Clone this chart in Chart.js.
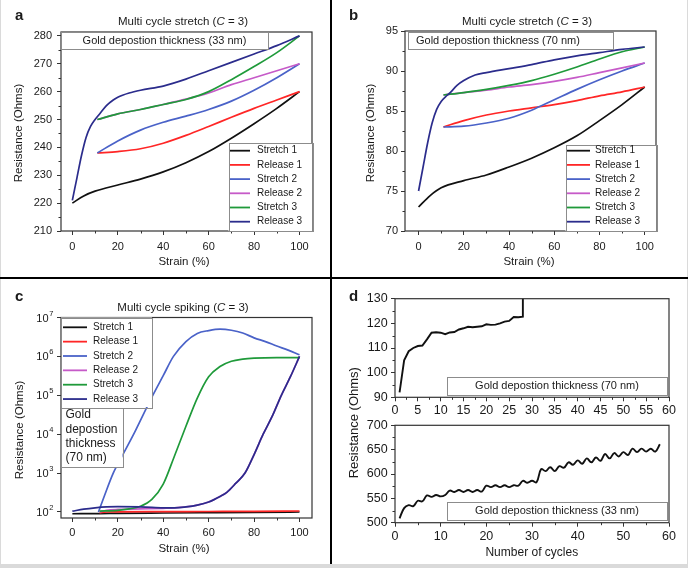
<!DOCTYPE html>
<html>
<head>
<meta charset="utf-8">
<script src="https://cdn.jsdelivr.net/npm/chart.js@4.4.1/dist/chart.umd.min.js"></script>
<style>
  body { margin: 0; background: #fff; }
  #fig { position: relative; width: 688px; height: 568px; overflow: hidden; background: #dadada; }
  #paper { position: absolute; left: 1px; top: 0; width: 686px; height: 564px; background: #fff; }
  .vline { position: absolute; left: 330px; top: 0; width: 2px; height: 564px; background: #000; }
  .hline { position: absolute; left: 0; top: 277px; width: 688px; height: 2px; background: #000; }
  canvas { position: absolute; left: 0; top: 0; }
</style>
</head>
<body>
<div id="fig">
  <div id="paper"></div>
  <div class="vline"></div>
  <div class="hline"></div>
  <canvas id="chartA" width="688" height="568"></canvas>
  <canvas id="chartB" width="688" height="568"></canvas>
  <canvas id="chartC" width="688" height="568"></canvas>
  <canvas id="chartD1" width="688" height="568"></canvas>
  <canvas id="chartD2" width="688" height="568"></canvas>
</div>
<script>
const W = 688, H = 568;
const FONT = "'Liberation Sans', Arial, Helvetica, sans-serif";

// series names + colours (shared by a, b, c)
const seriesNames = ['Stretch 1', 'Release 1', 'Stretch 2', 'Release 2', 'Stretch 3', 'Release 3'];
const seriesColors = ['#111111', '#ff2626', '#4a62c8', '#c65ac8', '#1f9a3a', '#2b2c8c'];

// ---- panel a : 33 nm ----
const aStrainS1 = [0, 5, 10, 20, 30, 40, 50, 60, 70, 80, 90, 100];
const aStretch1 = [220, 222.6, 224.3, 226.5, 228.6, 231.2, 234.5, 238.5, 243.3, 248.5, 254, 260];
const aStrainMid = [11, 20, 30, 40, 50, 60, 70, 80, 90, 100];
const aRelease1 = [238, 238.5, 239.5, 241.5, 244.3, 247.5, 250.8, 254, 257, 260];
const aStretch2 = [238, 242.3, 246.2, 249, 251.2, 253.6, 256.6, 260.5, 265, 270];
const aRelease2 = [250, 252, 253.6, 255.4, 257.3, 259.5, 262.5, 265, 267.5, 270];
const aStretch3 = [250, 252, 253.6, 255.4, 257.2, 260, 264.3, 269, 274, 280];
const aStrainR3 = [0, 2, 4, 6, 8, 10, 12, 15, 18, 20, 25, 30, 40, 50, 60, 70, 80, 90, 100];
const aRelease3 = [221, 229, 237, 243.5, 247.5, 250, 252, 255, 257, 258, 259.5, 260.5, 262, 264.5, 267.5, 270.5, 273.5, 276.5, 280];

// ---- panel b : 70 nm ----
const bStrainS1 = [0, 5, 10, 20, 30, 40, 50, 60, 70, 80, 90, 100];
const bStretch1 = [73, 74.4, 75.4, 76.3, 77, 78, 79.1, 80.4, 81.9, 83.8, 85.8, 88];
const bStrainMid = [11, 20, 30, 40, 50, 60, 70, 80, 90, 100];
const bRelease1 = [83, 83.8, 84.5, 85, 85.4, 85.8, 86.3, 86.9, 87.4, 88];
const bStretch2 = [83, 83.1, 83.5, 84.1, 85.1, 86.4, 87.7, 88.9, 90, 91];
const bRelease2 = [87, 87.3, 87.6, 88, 88.3, 88.7, 89.2, 89.8, 90.4, 91];
const bStretch3 = [87, 87.3, 87.7, 88.2, 88.8, 89.6, 90.5, 91.5, 92.4, 93];
const bStrainR3 = [0, 2, 4, 6, 8, 10, 12, 14, 17, 20, 25, 30, 40, 50, 60, 70, 80, 90, 100];
const bRelease3 = [75, 78, 81, 83.5, 85.2, 86.2, 86.8, 87.3, 88.2, 88.8, 89.5, 89.8, 90.3, 90.8, 91.4, 91.9, 92.3, 92.7, 93];

// ---- panel c : spiking, log scale ----
const cStrainS1 = [0, 12, 20, 40, 60, 80, 100];
const cStretch1 = [90, 91, 92, 94, 96, 98, 100];
const cStrainR1 = [12, 15, 20, 40, 60, 80, 100];
const cRelease1 = [95, 100, 101, 102, 103, 104, 106];
const cStrainS2 = [11.5, 14, 18, 22, 27, 31, 35, 40, 44.5, 50, 55, 60, 65, 70, 75, 80, 85, 90, 95, 100];
const cStretch2 = [100, 250, 1000, 2800, 1e4, 3e4, 9e4, 3.2e5, 1e6, 2.4e6, 3.9e6, 4.6e6, 5e6, 4.7e6, 4e6, 3e6, 2.4e6, 1.85e6, 1.45e6, 1.1e6];
const cStrainS3 = [12, 20, 25, 30, 35, 40, 45, 50, 55, 60, 65, 70, 75, 80, 90, 100];
const cStretch3 = [105, 110, 120, 140, 210, 520, 2800, 1.6e4, 8.5e4, 3e5, 5.5e5, 7.5e5, 8.5e5, 9e5, 9.3e5, 9.3e5];
const cStrainR2 = [12, 15, 20, 30, 40, 45, 50, 55, 60, 65, 68, 72, 76, 80, 84, 88, 92, 96, 100];
const cRelease2 = [100, 110, 116, 120, 124, 127, 135, 150, 180, 250, 320, 550, 1000, 3000, 1e4, 2.9e4, 1e5, 3e5, 1e6];
const cStrainR3 = [0, 5, 10, 15, 20, 30, 40, 45, 50, 55, 60, 65, 68, 72, 76, 80, 84, 88, 92, 96, 100];
const cRelease3 = [105, 118, 128, 135, 137, 135, 128, 127, 135, 150, 180, 250, 320, 550, 1000, 3000, 1e4, 2.9e4, 1e5, 3e5, 1e6];
const cTickValues = [1e2, 1e3, 1e4, 1e5, 1e6, 1e7];
const cTickExponents = ['2', '3', '4', '5', '6', '7'];

// ---- panel d : number of cycles ----
const dCyclesTop = [1, 2, 3, 4, 5, 6, 7, 8, 9, 10, 11, 12, 13, 14, 15, 16, 17, 18, 19, 20, 21, 22, 23, 24, 25, 26, 27, 28, 28];
const dThick70 = [92, 105, 108.7, 110, 110.8, 111, 113.5, 116.2, 116.4, 116.2, 115.6, 116.3, 116.5, 117.5, 118, 118.6, 118.4, 118.6, 118.8, 119.6, 119.4, 119.5, 120, 120.7, 121, 122.6, 122.5, 122.7, 140];
const dCyclesBottom = [1, 2, 3, 4, 5, 6, 7, 8, 9, 10, 11, 12, 13, 14, 15, 16, 17, 18, 19, 20, 21, 22, 23, 24, 25, 26, 27, 28, 29, 30,
  31, 32, 33, 34, 35, 36, 37, 38, 39, 40, 41, 42, 43, 44, 45, 46, 47, 48, 49, 50, 51, 52, 53, 54, 55, 56, 57, 58];
const dThick33 = [509, 530, 536, 534, 545, 544, 556, 553, 557, 554, 557, 566, 563, 567, 563, 567, 563, 567, 564, 576,
  573, 577, 573, 577, 573, 577, 576, 586, 582, 586, 583, 610, 606, 614, 606, 616, 613, 624, 619, 628,
  621, 632, 624, 634, 627, 641, 632, 643, 636, 645, 639, 652, 645, 652, 646, 652, 646, 661];

// texts
const titleStretch = ['Multi cycle stretch (', 'C', ' = 3)'];
const titleSpiking = ['Multi cycle spiking (', 'C', ' = 3)'];
const note33 = 'Gold depostion thickness (33 nm)';
const note70 = 'Gold depostion thickness (70 nm)';
const note70Lines = ['Gold', 'depostion', 'thickness', '(70 nm)'];
const yTitle = 'Resistance (Ohms)';
const xTitleStrain = 'Strain (%)';
const xTitleCycles = 'Number of cycles';

// ---------- helpers ----------
let lineSet = (label, color, xs, ys, extra) => {
    return Object.assign({
        label: label,
        data: xs.map((x, i) => ({ x: x, y: ys[i] })),
        borderColor: color,
        backgroundColor: color,
        borderWidth: 1.7,
        pointRadius: 0,
        fill: false,
        cubicInterpolationMode: 'monotone'
    }, extra || {});
}

// six cycle curves, later ones drawn on top
let cycleSets = (pairs) => {
    return pairs.map((p, i) => lineSet(seriesNames[i], seriesColors[i], p[0], p[1], { order: 6 - i }));
}

let axisOpt = (o, fit) => {
    return {
        type: o.type || 'linear',
        min: o.min,
        max: o.max,
        afterFit: fit,
        afterBuildTicks: o.ticks ? (s) => { s.ticks = o.ticks.map(v => ({ value: v })); } : undefined,
        ticks: {
            display: o.labels !== false,
            stepSize: o.step,
            includeBounds: false,
            autoSkip: false,
            maxRotation: 0,
            padding: o.pad,
            color: '#1a1a1a',
            font: { family: FONT, size: o.size }
        },
        grid: { drawOnChartArea: false, drawTicks: true, tickLength: 4, tickWidth: 1, tickColor: '#333', color: '#333' },
        border: { display: false }
    };
}

let makeChart = (id, area, xOpt, yOpt, datasets, deco) => {
    const yW = 48, xH = 26;
    return new Chart(document.getElementById(id), {
        type: 'line',
        data: { datasets: datasets },
        options: {
            responsive: false,
            animation: false,
            devicePixelRatio: 1,
            layout: { padding: { left: area.l - yW, top: area.t, right: W - area.r, bottom: H - area.b - xH } },
            plugins: { legend: { display: false }, tooltip: { enabled: false } },
            scales: {
                x: axisOpt(xOpt, s => { s.height = xH; }),
                y: axisOpt(yOpt, s => { s.width = yW; })
            }
        },
        plugins: [{ id: 'deco', afterDraw: c => deco(c, c.ctx) }]
    });
}

let txt = (ctx, s, x, y, size, o) => {
    o = o || {};
    ctx.save();
    ctx.font = (o.style || '') + ' ' + (o.weight || '') + ' ' + size + 'px ' + FONT;
    ctx.fillStyle = o.color || '#1a1a1a';
    ctx.textAlign = o.align || 'center';
    ctx.textBaseline = o.baseline || 'middle';
    ctx.translate(x, y);
    if (o.rotate) ctx.rotate(o.rotate);
    ctx.fillText(s, 0, 0);
    ctx.restore();
}

let title = (ctx, parts, cx, cy, size) => {
    ctx.save();
    const f = size + 'px ' + FONT, fi = 'italic ' + size + 'px ' + FONT;
    ctx.font = f;
    const w1 = ctx.measureText(parts[0]).width, w3 = ctx.measureText(parts[2]).width;
    ctx.font = fi;
    const w2 = ctx.measureText(parts[1]).width;
    let x = cx - (w1 + w2 + w3) / 2;
    ctx.fillStyle = '#1a1a1a';
    ctx.textBaseline = 'middle';
    ctx.textAlign = 'left';
    ctx.font = f; ctx.fillText(parts[0], x, cy); x += w1;
    ctx.font = fi; ctx.fillText(parts[1], x, cy); x += w2;
    ctx.font = f; ctx.fillText(parts[2], x, cy);
    ctx.restore();
}

let frame = (c, ctx) => {
    const a = c.chartArea;
    ctx.save();
    ctx.strokeStyle = '#333';
    ctx.lineWidth = 1.2;
    ctx.strokeRect(a.left, a.top, a.right - a.left, a.bottom - a.top);
    ctx.restore();
}

let minorTicks = (c, ctx, axis, step, major) => {
    const s = c.scales[axis], a = c.chartArea;
    ctx.save();
    ctx.strokeStyle = '#333';
    ctx.lineWidth = 1;
    ctx.beginPath();
    for (let v = Math.ceil(s.min / step) * step; v <= s.max + 1e-9; v += step) {
        const r = v / major;
        if (Math.abs(r - Math.round(r)) < 1e-6) continue;
        const p = Math.round(s.getPixelForValue(v)) + 0.5;
        if (axis === 'x') { ctx.moveTo(p, a.bottom); ctx.lineTo(p, a.bottom + 2.5); }
        else { ctx.moveTo(a.left - 2.5, p); ctx.lineTo(a.left, p); }
    }
    ctx.stroke();
    ctx.restore();
}

let box = (ctx, x, y, w, h) => {
    ctx.save();
    ctx.fillStyle = '#fff';
    ctx.fillRect(x, y, w, h);
    ctx.strokeStyle = '#8c8c8c';
    ctx.lineWidth = 1;
    ctx.strokeRect(Math.round(x) + 0.5, Math.round(y) + 0.5, Math.round(w), Math.round(h));
    ctx.restore();
}

let legend = (c, ctx, b) => {
    box(ctx, b.x, b.y, b.w, b.h);
    c.data.datasets.forEach((d, i) => {
        const y = b.row0 + i * b.gap;
        ctx.save();
        ctx.strokeStyle = d.borderColor;
        ctx.lineWidth = 1.8;
        ctx.beginPath();
        ctx.moveTo(b.lx0, y);
        ctx.lineTo(b.lx1, y);
        ctx.stroke();
        ctx.restore();
        txt(ctx, d.label, b.tx, y, 10, { align: 'left' });
    });
}

// ---------- panel a ----------
makeChart('chartA', { l: 61, t: 32, r: 312, b: 231 },
    { min: -5, max: 105.5, step: 20, size: 11, pad: 5 },
    { min: 210, max: 281.4, step: 10, size: 11, pad: 5 },
    cycleSets([[aStrainS1, aStretch1], [aStrainMid, aRelease1], [aStrainMid, aStretch2],
               [aStrainMid, aRelease2], [aStrainMid, aStretch3], [aStrainR3, aRelease3]]),
    (c, ctx) => {
        frame(c, ctx);
        minorTicks(c, ctx, 'x', 10, 20);
        minorTicks(c, ctx, 'y', 5, 10);
        txt(ctx, 'a', 15, 20, 15, { weight: 'bold', align: 'left', baseline: 'alphabetic' });
        title(ctx, titleStretch, 183, 21.5, 11.5);
        box(ctx, 61, 32, 207, 17);
        txt(ctx, note33, 164.5, 41, 11);
        legend(c, ctx, { x: 228.5, y: 143, w: 83.5, h: 88, row0: 150.7, gap: 14.2, lx0: 230, lx1: 250, tx: 257 });
        txt(ctx, yTitle, 19, 133, 11.5, { rotate: -Math.PI / 2 });
        txt(ctx, xTitleStrain, 184, 261.7, 11.5);
    });

// ---------- panel b ----------
makeChart('chartB', { l: 405, t: 31, r: 656, b: 231 },
    { min: -6, max: 105, step: 20, size: 11, pad: 5 },
    { min: 70, max: 95, step: 5, size: 11, pad: 3 },
    cycleSets([[bStrainS1, bStretch1], [bStrainMid, bRelease1], [bStrainMid, bStretch2],
               [bStrainMid, bRelease2], [bStrainMid, bStretch3], [bStrainR3, bRelease3]]),
    (c, ctx) => {
        frame(c, ctx);
        minorTicks(c, ctx, 'x', 10, 20);
        minorTicks(c, ctx, 'y', 2.5, 5);
        txt(ctx, 'b', 349, 20, 15, { weight: 'bold', align: 'left', baseline: 'alphabetic' });
        title(ctx, titleStretch, 527, 21.5, 11.5);
        box(ctx, 408, 32, 205, 17);
        txt(ctx, note70, 416, 41, 11, { align: 'left' });
        legend(c, ctx, { x: 565.5, y: 145, w: 90.5, h: 86, row0: 150.7, gap: 14.2, lx0: 567, lx1: 590, tx: 595 });
        txt(ctx, yTitle, 371, 133, 11.5, { rotate: -Math.PI / 2 });
        txt(ctx, xTitleStrain, 529, 261.7, 11.5);
    });

// ---------- panel c ----------
makeChart('chartC', { l: 61, t: 317.5, r: 312, b: 518 },
    { min: -5, max: 105.5, step: 20, size: 11, pad: 4 },
    { type: 'logarithmic', min: 70, max: 1e7, ticks: cTickValues, labels: false, size: 11, pad: 3 },
    cycleSets([[cStrainS1, cStretch1], [cStrainR1, cRelease1], [cStrainS2, cStretch2],
               [cStrainR2, cRelease2], [cStrainS3, cStretch3], [cStrainR3, cRelease3]]),
    (c, ctx) => {
        frame(c, ctx);
        minorTicks(c, ctx, 'x', 10, 20);
        const ys = c.scales.y;
        cTickValues.forEach((v, i) => {
            const py = ys.getPixelForValue(v);
            txt(ctx, '10', 48.5, py + 1, 11, { align: 'right' });
            txt(ctx, cTickExponents[i], 49.2, py - 4, 7.5, { align: 'left' });
        });
        txt(ctx, 'c', 15, 300.7, 15, { weight: 'bold', align: 'left', baseline: 'alphabetic' });
        title(ctx, titleSpiking, 183, 308, 11.5);
        legend(c, ctx, { x: 61, y: 317.5, w: 91, h: 89.5, row0: 327.3, gap: 14.35, lx0: 63, lx1: 87, tx: 93 });
        box(ctx, 61, 408, 61.5, 59);
        note70Lines.forEach((s, i) => txt(ctx, s, 65.5, 415 + i * 14.2, 12, { align: 'left' }));
        txt(ctx, yTitle, 20, 430, 11.5, { rotate: -Math.PI / 2 });
        txt(ctx, xTitleStrain, 184, 549, 11.5);
    });

// ---------- panel d (two stacked plots) ----------
makeChart('chartD1', { l: 395, t: 298.7, r: 669, b: 397.3 },
    { min: 0, max: 60, step: 5, size: 12.5, pad: 2 },
    { min: 90, max: 130, step: 10, size: 12.5, pad: 3.4 },
    [lineSet('70 nm', '#111', dCyclesTop, dThick70, { cubicInterpolationMode: 'default', tension: 0, borderWidth: 1.9 })],
    (c, ctx) => {
        frame(c, ctx);
        minorTicks(c, ctx, 'x', 2.5, 5);
        minorTicks(c, ctx, 'y', 5, 10);
        txt(ctx, 'd', 349, 300.7, 15, { weight: 'bold', align: 'left', baseline: 'alphabetic' });
        box(ctx, 447, 376.7, 220, 17.5);
        txt(ctx, note70, 557, 385.7, 11);
    });

makeChart('chartD2', { l: 395, t: 425.3, r: 669, b: 522.7 },
    { min: 0, max: 60, step: 10, size: 12.5, pad: 2 },
    { min: 500, max: 700, step: 50, size: 12.5, pad: 3.4 },
    [lineSet('33 nm', '#111', dCyclesBottom, dThick33, { cubicInterpolationMode: 'default', tension: 0.4, borderWidth: 1.9 })],
    (c, ctx) => {
        frame(c, ctx);
        minorTicks(c, ctx, 'x', 5, 10);
        minorTicks(c, ctx, 'y', 25, 50);
        box(ctx, 447, 502, 220, 18);
        txt(ctx, note33, 557, 511.2, 11);
        txt(ctx, yTitle, 354, 422.7, 13, { rotate: -Math.PI / 2 });
        txt(ctx, xTitleCycles, 531.8, 552.3, 12);
    });
</script>
</body>
</html>
